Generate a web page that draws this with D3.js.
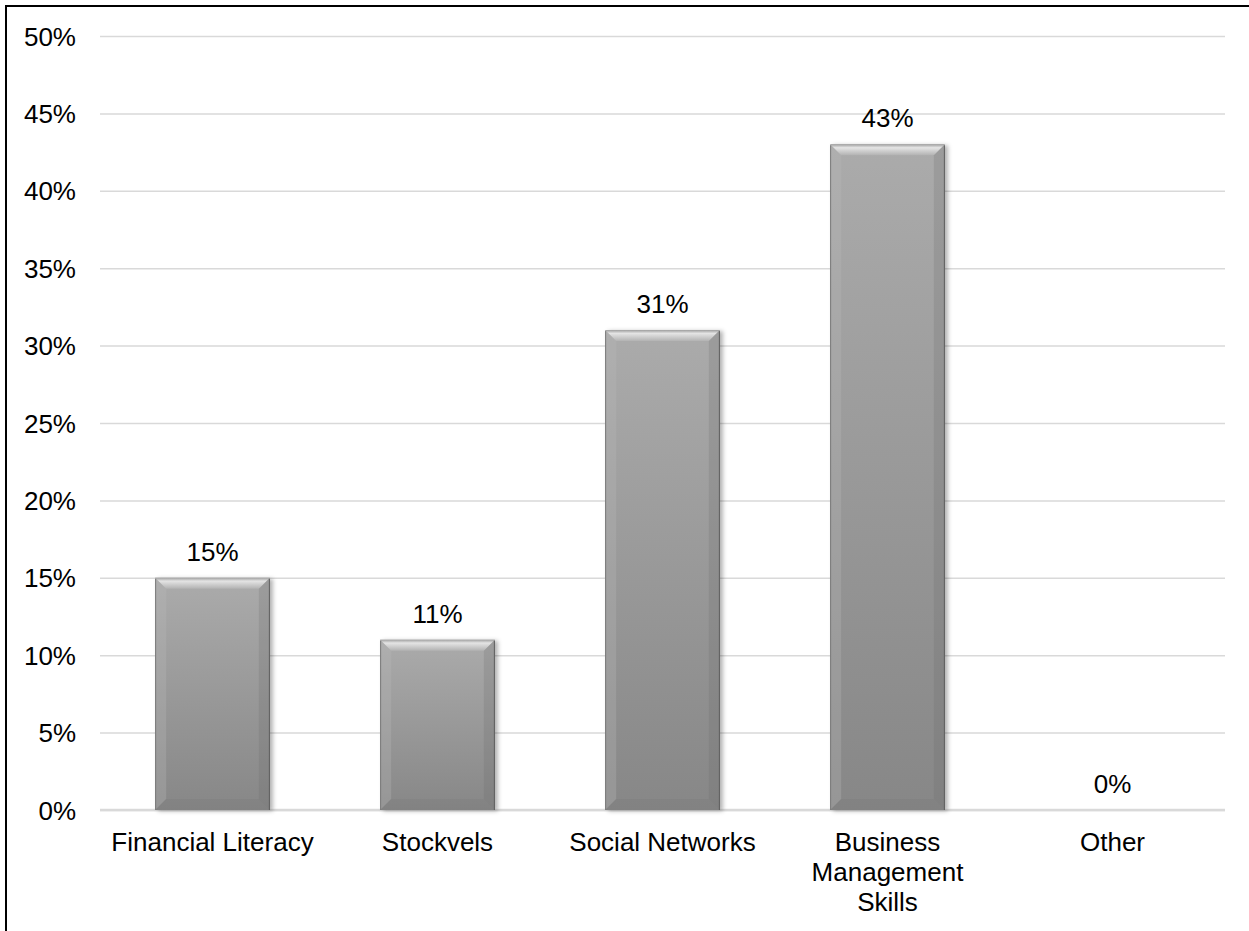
<!DOCTYPE html>
<html>
<head>
<meta charset="utf-8">
<script src="https://cdn.jsdelivr.net/npm/d3@7"></script>
<style>
  html, body { margin: 0; padding: 0; background: #fff; }
  svg { display: block; font-family: "Liberation Sans", Arial, sans-serif; }
</style>
</head>
<body>
<svg id="chart" width="1249" height="931"></svg>
<script>
// Survey categories and share of respondents
const categories = ["Financial Literacy", "Stockvels", "Social Networks", "Business Management Skills", "Other"];
const categoryLines = [["Financial Literacy"], ["Stockvels"], ["Social Networks"], ["Business", "Management", "Skills"], ["Other"]];
const values = [0.15, 0.11, 0.31, 0.43, 0.00];
const yTicks = [0, 0.05, 0.10, 0.15, 0.20, 0.25, 0.30, 0.35, 0.40, 0.45, 0.50];

const svg = d3.select("#chart");
const W = 1249, H = 931;
const plot = { left: 100, right: 1225, top: 36, bottom: 810 };
const fontSize = 26;

const x = d3.scaleBand().domain(categories).range([plot.left, plot.right]).paddingInner(0.49).paddingOuter(0.245);
const y = d3.scaleLinear().domain([0, 0.5]).range([plot.bottom, plot.top]);
const pct = d3.format(".0%");

// frame
svg.append("rect").attr("x", 6).attr("y", 6).attr("width", W + 20).attr("height", H + 20)
  .attr("fill", "none").attr("stroke", "#000").attr("stroke-width", 2);

const defs = svg.append("defs");
const body = defs.append("linearGradient").attr("id", "barBody").attr("x1", 0).attr("y1", 0).attr("x2", 0).attr("y2", 1);
body.append("stop").attr("offset", "0%").attr("stop-color", "#ababab");
body.append("stop").attr("offset", "100%").attr("stop-color", "#878787");
const topEdge = defs.append("linearGradient").attr("id", "topEdge").attr("x1", 0).attr("y1", 0).attr("x2", 0).attr("y2", 1);
topEdge.append("stop").attr("offset", "0%").attr("stop-color", "#a0a0a0");
topEdge.append("stop").attr("offset", "30%").attr("stop-color", "#e4e4e4");
topEdge.append("stop").attr("offset", "100%").attr("stop-color", "#b2b2b2");
const shadow = defs.append("filter").attr("id", "shadow").attr("x", "-20%").attr("y", "-5%").attr("width", "140%").attr("height", "110%");
shadow.append("feDropShadow").attr("dx", 3).attr("dy", 1).attr("stdDeviation", 2)
  .attr("flood-color", "#000").attr("flood-opacity", 0.3);

// gridlines and tick labels
const yAxis = d3.axisLeft(y).tickValues(yTicks).tickFormat(pct).tickSize(-(plot.right - plot.left)).tickPadding(24);
const gy = svg.append("g").attr("transform", `translate(${plot.left},0)`).call(yAxis);
gy.select(".domain").remove();
gy.selectAll(".tick line").attr("stroke", "#d9d9d9").attr("stroke-width", 1.5);
gy.selectAll(".tick text").attr("fill", "#000").attr("font-size", fontSize)
  .attr("font-family", "Liberation Sans, Arial, sans-serif").attr("dy", "0.35em");

// baseline
svg.append("line").attr("x1", plot.left).attr("x2", plot.right).attr("y1", y(0)).attr("y2", y(0))
  .attr("stroke", "#d9d9d9").attr("stroke-width", 2.5);

// bevelled bars
const bw = x.bandwidth();
const bev = 11;
const bars = svg.append("g").selectAll("g.bar").data(categories.map((c, i) => ({ c, v: values[i] })))
  .join("g").attr("class", "bar");

bars.filter(d => d.v > 0).each(function (d) {
  const g = d3.select(this);
  const x0 = x(d.c), x1 = x0 + bw, y0 = y(d.v), y1 = y(0);
  const b = Math.min(bev, (y1 - y0) / 2);
  g.append("rect").attr("x", x0).attr("y", y0).attr("width", bw).attr("height", y1 - y0)
    .attr("fill", "url(#barBody)").attr("filter", "url(#shadow)");
  // top facet
  g.append("path").attr("d", `M${x0},${y0}L${x1},${y0}L${x1 - b},${y0 + b}L${x0 + b},${y0 + b}Z`).attr("fill", "url(#topEdge)");
  // left facet
  g.append("path").attr("d", `M${x0},${y0}L${x0 + b},${y0 + b}L${x0 + b},${y1 - b}L${x0},${y1}Z`)
    .attr("fill", "#b8b8b8").attr("opacity", 0.3);
  // right facet
  g.append("path").attr("d", `M${x1},${y0}L${x1},${y1}L${x1 - b},${y1 - b}L${x1 - b},${y0 + b}Z`)
    .attr("fill", "#6a6a6a").attr("opacity", 0.22);
  // bottom facet
  g.append("path").attr("d", `M${x0},${y1}L${x1},${y1}L${x1 - b},${y1 - b}L${x0 + b},${y1 - b}Z`)
    .attr("fill", "#6e6e6e").attr("opacity", 0.18);
  // outline edges
  g.append("line").attr("x1", x0 + 0.5).attr("x2", x0 + 0.5).attr("y1", y0 + 1).attr("y2", y1)
    .attr("stroke", "#7a7a7a").attr("stroke-width", 1);
  g.append("line").attr("x1", x1 - 0.5).attr("x2", x1 - 0.5).attr("y1", y0 + 1).attr("y2", y1)
    .attr("stroke", "#5e5e5e").attr("stroke-width", 1);
});

// value labels
svg.append("g").selectAll("text").data(categories.map((c, i) => ({ c, v: values[i] })))
  .join("text")
  .attr("x", d => x(d.c) + bw / 2)
  .attr("y", d => y(d.v) - 17)
  .attr("text-anchor", "middle").attr("font-size", fontSize).attr("fill", "#000")
  .text(d => pct(d.v));

// category labels
const cl = svg.append("g").selectAll("text").data(categories.map((c, i) => ({ c, lines: categoryLines[i] })))
  .join("text")
  .attr("x", d => x(d.c) + bw / 2)
  .attr("y", 851)
  .attr("text-anchor", "middle").attr("font-size", fontSize).attr("fill", "#000");
cl.selectAll("tspan").data(d => d.lines.map(l => ({ l, cx: x(d.c) + bw / 2 })))
  .join("tspan").attr("x", d => d.cx).attr("dy", (d, i) => i === 0 ? 0 : 30).text(d => d.l);
</script>
</body>
</html>
